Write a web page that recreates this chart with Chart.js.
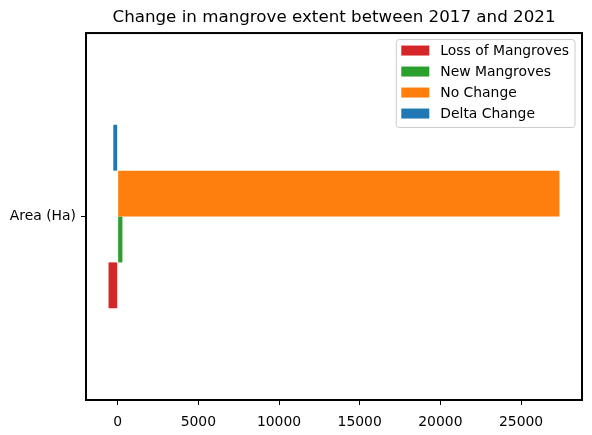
<!DOCTYPE html>
<html>
<head>
<meta charset="utf-8">
<script src="https://cdn.jsdelivr.net/npm/chart.js@4"></script>
<style>
  html, body { margin: 0; padding: 0; background: #fff; }
</style>
</head>
<body>
<canvas id="mangroveChart" width="592" height="435"></canvas>
<script>
const categories = ['Area (Ha)'];
const seriesNames = ['Loss of Mangroves', 'New Mangroves', 'No Change', 'Delta Change'];
const seriesColors = ['#d62728', '#2ca02c', '#ff7f0e', '#1f77b4'];
const lossValues = [-565];
const newValues = [295];
const noChangeValues = [27380];
const deltaValues = [-270];
const xTickValues = [0, 5000, 10000, 15000, 20000, 25000];

const seriesValues = [lossValues, newValues, noChangeValues, deltaValues];

// legend order is bottom bar first, chart.js puts dataset 0 on top so reverse
const datasets = seriesNames.map((name, i) => ({
  label: name,
  data: seriesValues[i],
  backgroundColor: seriesColors[i],
  borderWidth: 0,
  inflateAmount: 0,
  categoryPercentage: 0.5,
  barPercentage: 1.0,
})).reverse();

const FONT = 'DejaVu Sans';

// box round the axes, like matplotlib spines
const framePlugin = {
  id: 'frame',
  afterDatasetsDraw(chart) {
    const { ctx, chartArea: a } = chart;
    ctx.save();
    ctx.strokeStyle = '#000';
    ctx.lineWidth = 2;
    ctx.strokeRect(a.left, a.top, a.right - a.left, a.bottom - a.top);
    ctx.restore();
  }
};

// legend inside the plot, top right
const innerLegend = {
  id: 'innerLegend',
  afterDraw(chart) {
    const { ctx, chartArea: a } = chart;
    const items = chart.data.datasets.slice().reverse();
    ctx.save();
    ctx.font = '13.9px "' + FONT + '"';
    const textW = Math.max(...items.map(d => ctx.measureText(d.label).width));
    const rowH = 21;
    const w = 5 + 28 + 11 + textW + 6;
    const h = items.length * rowH + 4;
    const x = a.right - 7 - w;
    const y = a.top + 6.5;
    ctx.fillStyle = 'rgba(255,255,255,0.8)';
    ctx.strokeStyle = '#cccccc';
    ctx.lineWidth = 1;
    ctx.beginPath();
    ctx.roundRect(x, y, w, h, 3);
    ctx.fill();
    ctx.stroke();
    items.forEach((d, i) => {
      const cy = y + 11 + i * rowH;
      ctx.fillStyle = d.backgroundColor;
      ctx.fillRect(x + 5, cy - 5, 28, 10);
      ctx.fillStyle = '#000';
      ctx.textBaseline = 'middle';
      ctx.textAlign = 'left';
      ctx.fillText(d.label, x + 44, cy + 1);
    });
    ctx.restore();
  }
};

Chart.defaults.color = '#000';
Chart.defaults.font.family = FONT;

const ctx = document.getElementById('mangroveChart');

new Chart(ctx, {
  type: 'bar',
  data: {
    labels: categories,
    datasets: datasets
  },
  options: {
    indexAxis: 'y',
    responsive: false,
    animation: false,
    devicePixelRatio: 1,
    layout: { padding: { left: 0, right: 10, top: 0, bottom: 0 } },
    plugins: {
      legend: { display: false },
      tooltip: { enabled: false },
      title: {
        display: true,
        text: 'Change in mangrove extent between 2017 and 2021',
        fullSize: false,
        color: '#000',
        font: { size: 16.7, weight: 'normal', family: FONT },
        padding: { top: 8, bottom: 5 }
      }
    },
    scales: {
      x: {
        type: 'linear',
        min: -1962,
        max: 28777,
        afterBuildTicks: axis => { axis.ticks = xTickValues.map(v => ({ value: v })); },
        afterFit: axis => { axis.height = 35; },
        grid: { drawOnChartArea: false, drawTicks: true, tickLength: 5, color: '#000', lineWidth: 1 },
        border: { display: false },
        ticks: { font: { size: 13.9 }, padding: 9, maxRotation: 0, autoSkip: false, callback: v => String(v) }
      },
      y: {
        afterFit: axis => { axis.width = 86; },
        grid: { offset: false, drawOnChartArea: false, drawTicks: true, tickLength: 5, color: '#000', lineWidth: 1 },
        border: { display: false },
        ticks: { font: { size: 13.9 }, padding: 5 }
      }
    }
  },
  plugins: [framePlugin, innerLegend]
});
</script>
</body>
</html>
